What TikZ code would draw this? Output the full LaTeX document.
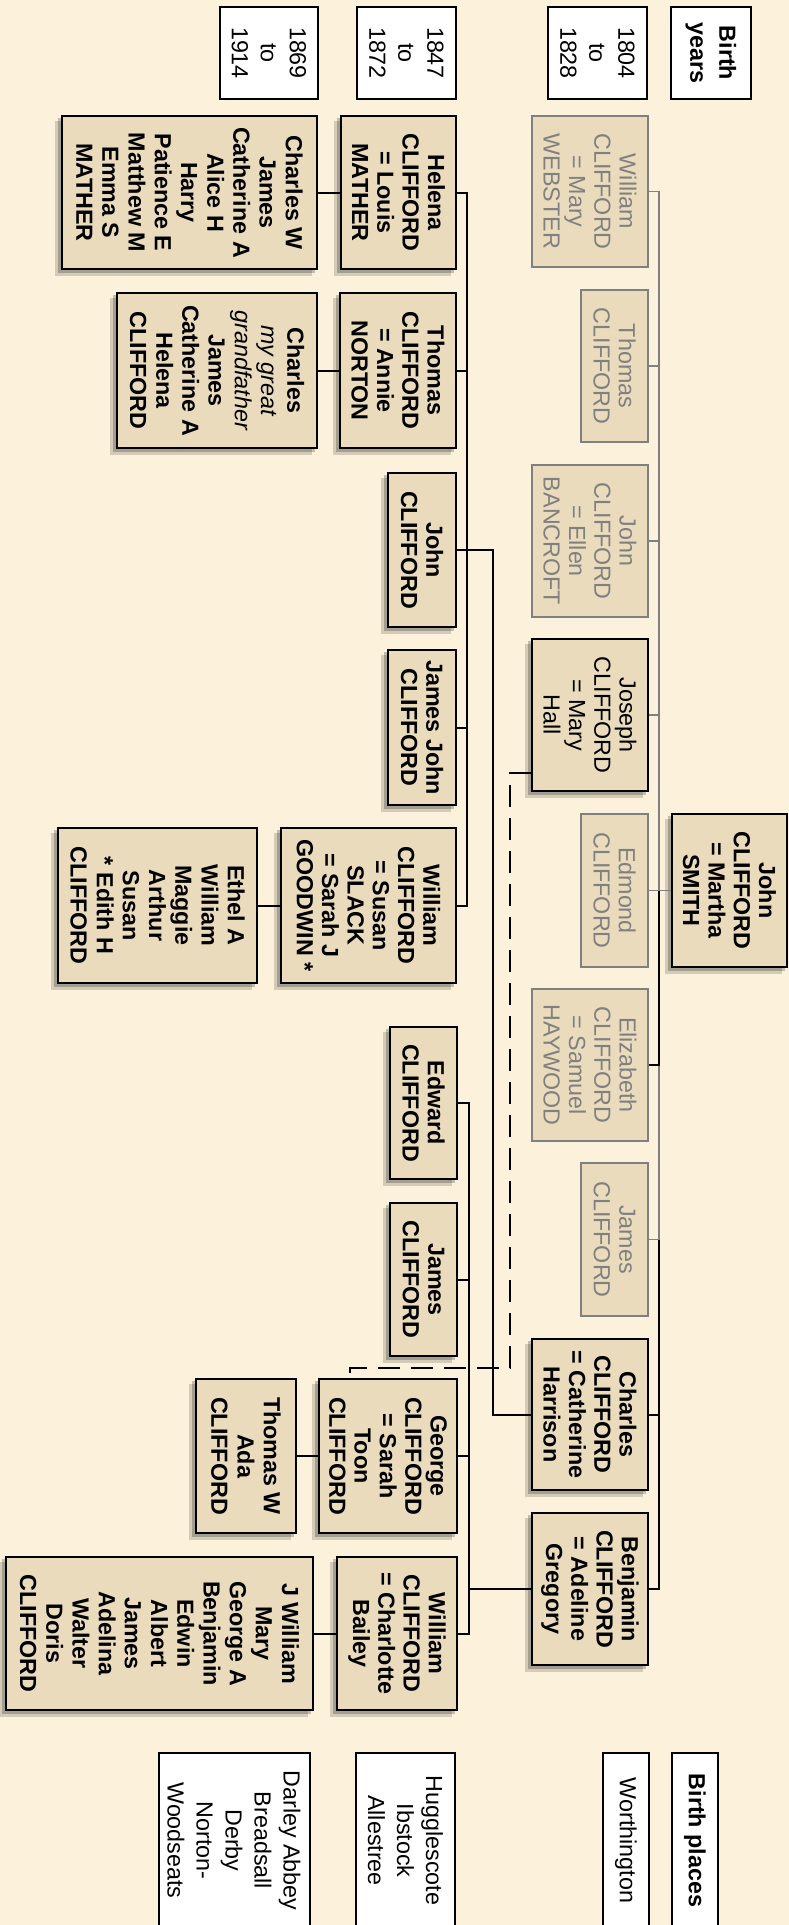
\documentclass[tikz,border=0pt]{standalone}
\usepackage{fontspec}
\setmainfont{Liberation Sans}
\usetikzlibrary{calc}

\definecolor{cream}{RGB}{252,242,220}
\definecolor{parch}{RGB}{233,219,188}
\definecolor{ghostgrey}{RGB}{128,128,128}

\newcommand{\kinfont}{\fontsize{23.3}{25.3}\selectfont\bfseries}
\newcommand{\kidfont}{\fontsize{23.3}{26.2}\selectfont\bfseries}
\newcommand{\ghostfont}{\fontsize{23.3}{25.3}\selectfont}
\newcommand{\hdrfont}{\fontsize{23.3}{29}\selectfont}

\pgfdeclarelayer{paper}
\pgfdeclarelayer{shade}
\pgfsetlayers{paper,shade,main}

\tikzset{
  kin/.style={draw=black, line width=2.2pt, fill=parch, rotate=-90, align=center, inner sep=0pt,
    font=\kinfont},
  kids/.style={kin, font=\kidfont},
  ghost/.style={draw=ghostgrey, line width=1.7pt, fill=parch, text=ghostgrey, rotate=-90,
    align=center, inner sep=0pt, font=\ghostfont},
  hdr/.style={draw=black, line width=2pt, fill=white, rotate=-90, align=center, inner sep=0pt,
    font=\hdrfont},
  boxsize/.style 2 args={minimum width=#1, minimum height=#2},
  kinline/.style={black, line width=2pt},
  ghostline/.style={ghostgrey, line width=1.8pt},
  doubtline/.style={black, line width=2pt, dash pattern=on 22pt off 11pt}
}

\begin{document}
\begin{tikzpicture}[x=1pt, y=-1pt]
% parchment page
\begin{pgfonlayer}{paper}
\fill[cream] (0,0) rectangle (789,1925);
\end{pgfonlayer}
\useasboundingbox (0,0) rectangle (789,1925);

% column headings
\node[hdr, font=\hdrfont\bfseries, boxsize={92}{80}] (byears) at (711,53) {Birth\\years};
\node[hdr, boxsize={92}{99}] (span1) at (597.5,53) {1804\\to\\1828};
\node[hdr, boxsize={92}{99}] (span2) at (406.5,53) {1847\\to\\1872};
\node[hdr, boxsize={92}{98}] (span3) at (269,53) {1869\\to\\1914};

% first generation
\node[kin, boxsize={153}{115}] (root) at (729.5,890.5) {John\\CLIFFORD\\= Martha\\SMITH};

% second generation
\node[ghost, boxsize={151}{116}] (william) at (590,191.5) {William\\CLIFFORD\\= Mary\\WEBSTER};
\node[ghost, boxsize={152}{67}] (thomas) at (614.5,366) {Thomas\\CLIFFORD};
\node[ghost, boxsize={152}{116}] (john) at (590,541) {John\\CLIFFORD\\= Ellen\\BANCROFT};
\node[kin, font=\ghostfont, boxsize={152}{116}] (joseph) at (590,715) {Joseph\\CLIFFORD\\= Mary\\Hall};
\node[ghost, boxsize={153}{67}] (edmond) at (614.5,890.5) {Edmond\\CLIFFORD};
\node[ghost, boxsize={152}{116}] (elizabeth) at (590,1065) {Elizabeth\\CLIFFORD\\= Samuel\\HAYWOOD};
\node[ghost, boxsize={153}{67}] (james) at (614.5,1239.5) {James\\CLIFFORD};
\node[kin, boxsize={151}{116}] (charles) at (590,1414.5) {Charles\\CLIFFORD\\= Catherine\\Harrison};
\node[kin, boxsize={152}{116}] (benjamin) at (590,1589) {Benjamin\\CLIFFORD\\= Adeline\\Gregory};

% third generation
\node[kin, boxsize={153}{115}] (helena) at (398.5,192.5) {Helena\\CLIFFORD\\= Louis\\MATHER};
\node[kin, boxsize={155}{116}] (thomasc) at (398,370.5) {Thomas\\CLIFFORD\\= Annie\\NORTON};
\node[kin, boxsize={154}{68}] (johnc) at (422,550) {John\\CLIFFORD};
\node[kin, boxsize={155}{68}] (jamesjohn) at (422,727.5) {James John\\CLIFFORD};
\node[kin, boxsize={155}{175}] (williamc) at (368.5,905.5) {William\\CLIFFORD\\= Susan\\SLACK\\= Sarah J\\GOODWIN *};
\node[kin, boxsize={152}{67}] (edward) at (423.5,1103) {Edward\\CLIFFORD};
\node[kin, boxsize={153}{67}] (jamesb) at (423.5,1279.5) {James\\CLIFFORD};
\node[kin, boxsize={154}{138}] (george) at (388,1456) {George\\CLIFFORD\\= Sarah\\Toon\\CLIFFORD};
\node[kin, boxsize={153}{120}] (williamb) at (397,1633.5) {William\\CLIFFORD\\= Charlotte\\Bailey};

% fourth generation
\node[kids, boxsize={153}{255}] (helenakids) at (189.5,192.5) {Charles W\\James\\Catherine A\\Alice H\\Harry\\Patience E\\Matthew M\\Emma S\\MATHER};
\node[kids, boxsize={155}{200}] (thomaskids) at (217,370.5) {Charles\\{\mdseries\itshape my great}\\{\mdseries\itshape grandfather}\\James\\Catherine A\\Helena\\CLIFFORD};
\node[kids, boxsize={155}{199}] (williamkids) at (157.5,905.5) {Ethel A\\William\\Maggie\\Arthur\\Susan\\* Edith H\\CLIFFORD};
\node[kids, boxsize={154}{100}] (georgekids) at (246,1456) {Thomas W\\Ada\\CLIFFORD};
\node[kids, boxsize={153}{307}] (williambkids) at (159.5,1633.5) {J William\\Mary\\George A\\Benjamin\\Edwin\\Albert\\James\\Adelina\\Walter\\Doris\\CLIFFORD};

% birth places
\node[hdr, font=\hdrfont\bfseries, boxsize={175}{46}] (bplaces) at (695,1840.5) {Birth places};
\node[hdr, boxsize={175}{46}] (place1) at (626,1840.5) {Worthington};
\node[hdr, boxsize={175}{99}] (place2) at (405.5,1840.5) {Hugglescote\\Ibstock\\Allestree};
\node[hdr, boxsize={175}{151}] (place3) at (234,1840.5) {Darley Abbey\\Breadsall\\Derby\\Norton-\\Woodseats};

% soft shadows under the direct-line boxes
\begin{pgfonlayer}{shade}
\foreach \n in {root, joseph, charles, benjamin, helena, thomasc, johnc, jamesjohn, williamc,
    edward, jamesb, george, williamb, helenakids, thomaskids, williamkids, georgekids, williambkids}{
  \fill[black, opacity=.16] ($(\n.north west)+(-6,6)$) rectangle ($(\n.south east)+(-6,6)$);
  \fill[black, opacity=.22] ($(\n.north west)+(-3,3)$) rectangle ($(\n.south east)+(-3,3)$);
}
\end{pgfonlayer}

% connector columns
\coordinate (bus) at (659,0);
\coordinate (sib) at (467,0);
\coordinate (sibb) at (469,0);
\coordinate (link) at (493,0);

% John and Martha to their children
\draw[ghostline] (william.north) -- (william.north -| bus) -- (james.north -| bus) -- (james.north);
\foreach \c in {thomas, john, joseph, edmond}
  \draw[ghostline] (\c.north) -- (\c.north -| bus);
\draw[ghostline] (root.south) -- (root.south -| bus);
\draw[kinline] (root.south -| bus) -- (elizabeth.north -| bus) -- (elizabeth.north);
\draw[kinline] (james.north -| bus) -- (benjamin.north -| bus) -- (benjamin.north);
\draw[kinline] (charles.north) -- (charles.north -| bus);

% Charles and Catherine
\draw[kinline] (helena.north) -- (helena.north -| sib) -- (williamc.north -| sib) -- (williamc.north);
\foreach \c in {thomasc, jamesjohn}
  \draw[kinline] (\c.north) -- (\c.north -| sib);
\draw[kinline] (charles.south) -- (charles.south -| link) -- (johnc.north -| link) -- (johnc.north);

% Benjamin and Adeline
\draw[kinline] (edward.north) -- (edward.north -| sibb) -- (williamb.north -| sibb) -- (williamb.north);
\foreach \c in {jamesb, george}
  \draw[kinline] (\c.north) -- (\c.north -| sibb);
\draw[kinline] (benjamin.south) -- (benjamin.south -| sibb);

% Joseph may be George's father
\draw[doubtline] ($(joseph.south)+(0,58)$) -- ++(-21,0) -- ++(0,595) -| ($(george.west)+(-38,0)$);

% grandchildren
\foreach \p/\k in {helena/helenakids, thomasc/thomaskids, williamc/williamkids, george/georgekids, williamb/williambkids}
  \draw[kinline] (\p.south) -- (\k.north);
\end{tikzpicture}
\end{document}
